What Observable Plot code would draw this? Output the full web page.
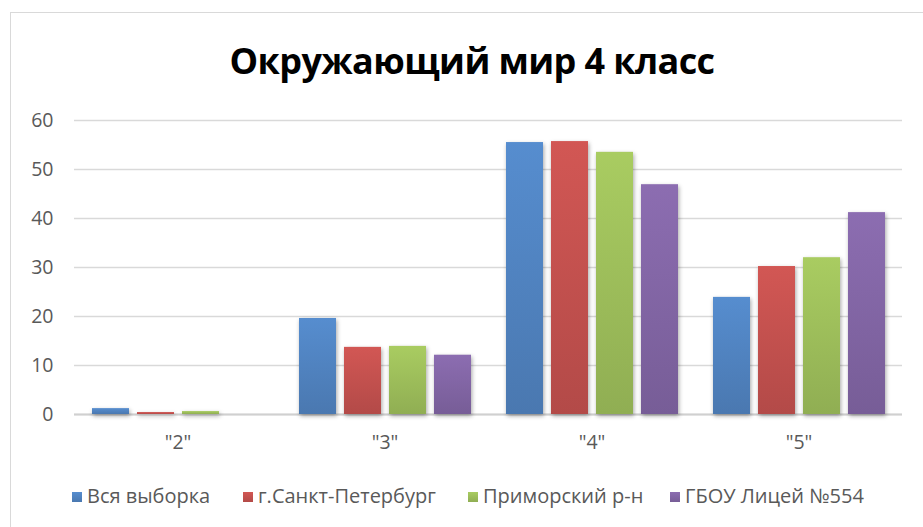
<!DOCTYPE html>
<html><head><meta charset="utf-8">
<script src="https://cdn.jsdelivr.net/npm/d3@7"></script>
<script src="https://cdn.jsdelivr.net/npm/@observablehq/plot@0.6"></script>
<style>
body{margin:0;background:#fff;font-family:"Open Sans",sans-serif;}
#wrap{position:relative;width:923px;height:527px;overflow:hidden;}
#frame{position:absolute;left:10px;top:12px;width:940px;height:540px;border:1px solid #d9d9d9;box-sizing:border-box;}
#title{position:absolute;left:10px;top:36px;width:924px;text-align:center;font-weight:bold;font-size:36px;letter-spacing:-0.6px;color:#000;}
.layer{position:absolute;left:0;top:95px;}
#legend{position:absolute;left:0;top:482px;width:923px;font-size:20px;color:#595959;}
#legend div{position:absolute;white-space:nowrap;}
#legend span.sw{display:inline-block;width:10px;height:10px;margin-right:5px;vertical-align:middle;position:relative;top:-1px;}
.bars rect{filter:drop-shadow(1px 2px 2px rgba(0,0,0,0.35));}
</style></head>
<body>
<div id="wrap">
<div id="frame"></div>
<div id="title">Окружающий мир 4 класс</div>
<div id="grid" class="layer"></div>
<div id="bars" class="layer"></div>
<div id="legend"></div>
</div>
<script>
const grades = ['"2"', '"3"', '"4"', '"5"'];
const seriesNames = ["Вся выборка", "г.Санкт-Петербург", "Приморский р-н", "ГБОУ Лицей №554"];
const colors = ["#4F81BD", "#C0504D", "#9BBB59", "#8064A2"];
const allSample = [1.2, 19.6, 55.5, 23.9];
const spb = [0.4, 13.7, 55.7, 30.2];
const primorsky = [0.6, 13.9, 53.5, 32.0];
const lyceum = [0, 12.1, 46.9, 41.2];
const yTicks = [0, 10, 20, 30, 40, 50, 60];

const seriesValues = [allSample, spb, primorsky, lyceum];
const data = [];
grades.forEach((g, i) => seriesNames.forEach((s, j) => data.push({grade: g, series: s, value: seriesValues[j][i]})));

const common = {
  width: 923,
  height: 370,
  marginLeft: 74,
  marginRight: 21,
  marginTop: 25,
  marginBottom: 51,
  style: {fontFamily: '"Open Sans", sans-serif', fontSize: "19.5px", color: "#595959", background: "transparent"},
  y: {domain: [0, 60], ticks: yTicks, label: null, tickSize: 0, tickPadding: 21}
};

// background layer: y axis + gridlines spanning the whole plot width
const gridPlot = Plot.plot({
  ...common,
  x: {domain: grades, axis: null},
  marks: [
    Plot.gridY(yTicks, {stroke: "#d9d9d9", strokeOpacity: 1, strokeWidth: 1.5}),
    Plot.ruleY([0], {stroke: "#d0d0d0", strokeWidth: 2})
  ]
});
document.getElementById("grid").appendChild(gridPlot);

// gradients (lighter top, darker bottom) per series colour
const gradIds = colors.map((c, i) => "grad" + i);
const barsPlot = Plot.plot({
  ...common,
  y: {...common.y, axis: null},
  fx: {domain: grades, paddingInner: 0.165, paddingOuter: 0.0825, label: null, axis: "bottom", tickSize: 0, tickPadding: 21},
  x: {domain: seriesNames, axis: null, paddingInner: 0.18, paddingOuter: 0},
  color: {domain: seriesNames, range: gradIds.map(id => `url(#${id})`)},
  marks: [
    Plot.barY(data, {fx: "grade", x: "series", y: "value", fill: "series", className: "bars"})
  ]
});
const defs = d3.select(barsPlot).insert("defs", ":first-child");
colors.forEach((c, i) => {
  const g = defs.append("linearGradient").attr("id", gradIds[i]).attr("x1", 0).attr("y1", 0).attr("x2", 0).attr("y2", 1);
  g.append("stop").attr("offset", "0%").attr("stop-color", d3.color(c).brighter(0.25).formatHex());
  g.append("stop").attr("offset", "100%").attr("stop-color", d3.color(c).darker(0.2).formatHex());
});
document.getElementById("bars").appendChild(barsPlot);

const legendX = [72, 243, 468, 670];
const lg = document.getElementById("legend");
seriesNames.forEach((s, i) => {
  const d = document.createElement("div");
  d.style.left = legendX[i] + "px";
  d.innerHTML = `<span class="sw" style="background:linear-gradient(${d3.color(colors[i]).brighter(0.25).formatHex()}, ${d3.color(colors[i]).darker(0.2).formatHex()})"></span>${s}`;
  lg.appendChild(d);
});
</script>
</body></html>
